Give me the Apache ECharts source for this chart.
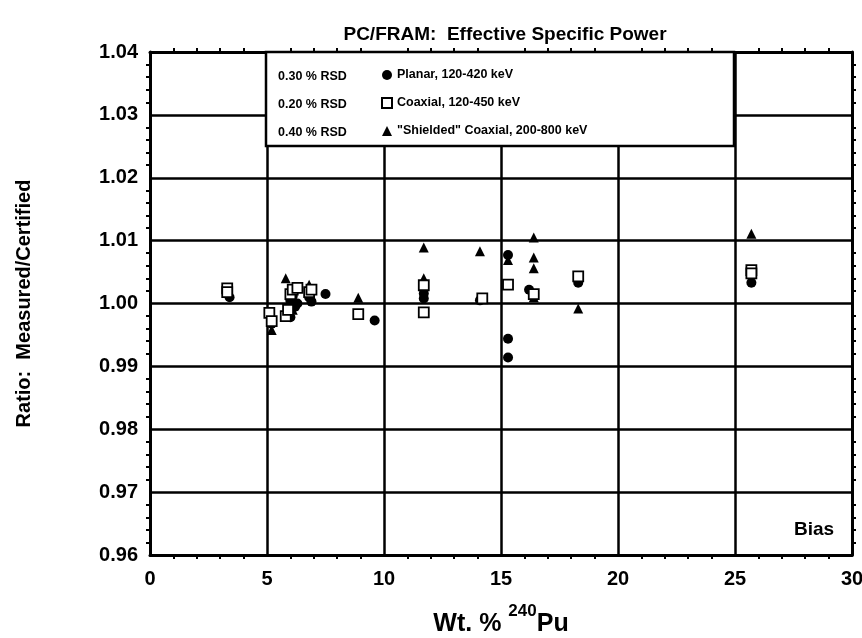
<!DOCTYPE html>
<html>
<head>
<meta charset="utf-8">
<title>PC/FRAM: Effective Specific Power</title>
<script src="https://cdn.jsdelivr.net/npm/echarts@6/dist/echarts.min.js"></script>
<style>
  html, body { margin: 0; padding: 0; background: #fff; }
  #chart { width: 862px; height: 638px; }
</style>
</head>
<body>
<div id="chart"></div>
<script>
// values: [wt% 240Pu, measured/certified]
const planar = [
  [3.4, 1.0010], [5.2, 0.9968], [5.9, 0.9985], [6.0, 0.9978], [6.0, 1.0005],
  [6.1, 1.0012], [6.2, 0.9995], [6.3, 1.0000], [6.8, 1.0010], [6.9, 1.0003],
  [7.5, 1.0015], [9.6, 0.9973], [11.7, 1.0016], [11.7, 1.0008], [14.1, 1.0005],
  [15.3, 1.0077], [15.3, 0.9944], [15.3, 0.9914], [16.2, 1.0022], [16.4, 1.0015],
  [18.3, 1.0033], [25.7, 1.0033]
];
const coaxial = [
  [3.3, 1.0024], [3.3, 1.0018], [5.1, 0.9985], [5.2, 0.9972], [5.8, 0.9980],
  [5.9, 0.9990], [6.0, 1.0015], [6.1, 1.0022], [6.3, 1.0025], [6.8, 1.0018],
  [6.9, 1.0022], [8.9, 0.9983], [11.7, 1.0029], [11.7, 0.9986], [14.2, 1.0008],
  [15.3, 1.0030], [16.4, 1.0015], [18.3, 1.0043], [25.7, 1.0053], [25.7, 1.0048]
];
const shielded = [
  [5.2, 0.9958], [5.8, 1.0040], [6.0, 1.0010], [6.1, 0.9990], [6.8, 1.0030],
  [8.9, 1.0009], [11.7, 1.0089], [11.7, 1.0040], [14.1, 1.0083], [15.3, 1.0069],
  [16.4, 1.0105], [16.4, 1.0073], [16.4, 1.0056], [16.4, 1.0010], [18.3, 0.9992],
  [25.7, 1.0111]
];
const seriesNames = ['Planar, 120-420 keV', 'Coaxial, 120-450 keV', '"Shielded" Coaxial, 200-800 keV'];
const rsdLabels = ['0.30 % RSD', '0.20 % RSD', '0.40 % RSD'];

const chart = echarts.init(document.getElementById('chart'));
const font = '"Liberation Sans", Arial, sans-serif';
const black = '#000';

const axisCommon = {
  axisLine: { show: true, onZero: false, lineStyle: { color: black, width: 3 } },
  axisTick: { show: false },
  minorTick: { show: true, splitNumber: 5, length: 4, lineStyle: { color: black, width: 2 } }
};

const option = {
  animation: false,
  backgroundColor: '#fff',
  title: {
    text: 'PC/FRAM:  Effective Specific Power',
    left: 500, top: 20, textAlign: 'center',
    textStyle: { fontFamily: font, fontWeight: 'bold', fontSize: 19, color: black }
  },
  grid: { left: 150, right: 10, top: 52, bottom: 83, containLabel: false, outerBoundsMode: 'none' },
  legend: {
    orient: 'vertical', left: 376, top: 62, itemGap: 12,
    itemWidth: 10, itemHeight: 10, z: 10,
    data: seriesNames,
    textStyle: { fontFamily: font, fontWeight: 'bold', fontSize: 12.5, color: black, lineHeight: 16 }
  },
  xAxis: [
    Object.assign({}, axisCommon, {
      type: 'value', position: 'bottom', min: 0, max: 30, interval: 5,
      name: '{a|Wt. % }{s|240}{a|Pu}', nameLocation: 'middle', nameGap: 48,
      nameTextStyle: {
        rich: {
          a: { fontFamily: font, fontWeight: 'bold', fontSize: 25, color: black, lineHeight: 34, verticalAlign: 'bottom' },
          s: { fontFamily: font, fontWeight: 'bold', fontSize: 17, color: black, lineHeight: 34, verticalAlign: 'top' }
        }
      },
      axisLabel: { margin: 14, fontFamily: font, fontWeight: 'bold', fontSize: 20, color: black },
      splitLine: { show: true, lineStyle: { color: black, width: 2.5 } }
    }),
    Object.assign({}, axisCommon, {
      type: 'value', position: 'top', min: 0, max: 30, interval: 5,
      axisLabel: { show: false }, splitLine: { show: false }
    })
  ],
  yAxis: [
    Object.assign({}, axisCommon, {
      type: 'value', position: 'left', min: 0.96, max: 1.04, interval: 0.01,
      name: 'Ratio:  Measured/Certified', nameLocation: 'middle', nameGap: 116,
      nameTextStyle: { fontFamily: font, fontWeight: 'bold', fontSize: 20, color: black },
      axisLabel: {
        margin: 12, fontFamily: font, fontWeight: 'bold', fontSize: 20, color: black,
        formatter: v => v.toFixed(2)
      },
      splitLine: { show: true, lineStyle: { color: black, width: 2.5 } }
    }),
    Object.assign({}, axisCommon, {
      type: 'value', position: 'right', min: 0.96, max: 1.04, interval: 0.01,
      axisLabel: { show: false }, splitLine: { show: false }
    })
  ],
  graphic: [
    {
      type: 'rect', z: 5,
      shape: { x: 266, y: 52, width: 468, height: 94 },
      style: { fill: '#fff', stroke: black, lineWidth: 2.5 }
    },
    {
      type: 'text', z: 6, left: 278, top: 63,
      style: { text: rsdLabels.join('\n'), fontFamily: font, fontWeight: 'bold', fontSize: 12.5, fill: black, lineHeight: 28 }
    },
    {
      type: 'text', z: 6, left: 794, top: 520,
      style: { text: 'Bias', fontFamily: font, fontWeight: 'bold', fontSize: 19, fill: black }
    }
  ],
  series: [
    {
      name: seriesNames[0], type: 'scatter', data: planar, z: 3,
      symbol: 'circle', symbolSize: 10,
      itemStyle: { color: black, opacity: 1 }
    },
    {
      name: seriesNames[1], type: 'scatter', data: coaxial, z: 4,
      symbol: 'rect', symbolSize: 10,
      itemStyle: { color: '#fff', borderColor: black, borderWidth: 1.8, opacity: 1 }
    },
    {
      name: seriesNames[2], type: 'scatter', data: shielded, z: 3,
      symbol: 'triangle', symbolSize: 10,
      itemStyle: { color: black, opacity: 1 }
    }
  ]
};

chart.setOption(option);
window.addEventListener('resize', () => chart.resize());
</script>
</body>
</html>
